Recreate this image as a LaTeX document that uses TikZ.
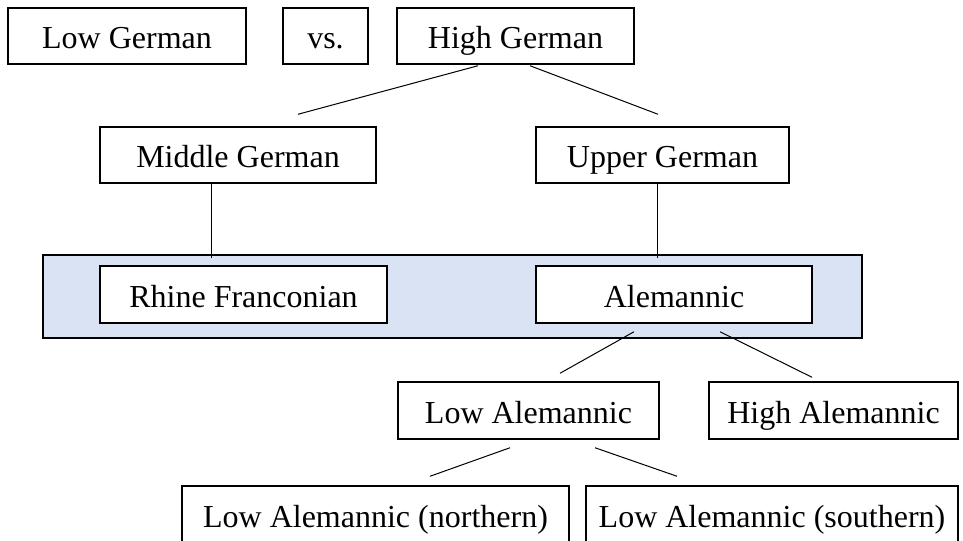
\documentclass[tikz,border=0pt]{standalone}
\usepackage{fontspec}
\setmainfont{Liberation Serif}
\usepackage{xcolor}
\definecolor{bandblue}{HTML}{DAE3F3}

\begin{document}
\begin{tikzpicture}[
    x=0.75pt, y=-0.75pt,
    box/.style={draw, line width=1.1pt, fill=white, inner sep=0pt, minimum height=42pt, text height=20pt, text depth=1pt, align=center, font=\fontsize{24}{28}\selectfont},
    band/.style={draw, line width=1.1pt, fill=bandblue, inner sep=0pt},
    link/.style={line width=0.75pt}
]
\useasboundingbox (0,0) rectangle (963,540);

\node[band, minimum width=614.25pt, minimum height=62.25pt] (group) at (452.5,296.5) {};

\node[box, minimum width=178.5pt] (lowger) at (127,36) {Low German};
\node[box, minimum width=63.75pt] (vs) at (325.5,36) {vs.};
\node[box, minimum width=177.75pt] (highger) at (515.5,36) {High German};
\node[box, minimum width=207pt] (midger) at (238,155) {Middle German};
\node[box, minimum width=189.75pt] (upger) at (662.5,155) {Upper German};
\node[box, minimum width=215.25pt, minimum height=42.75pt] (rhine) at (243.5,294.5) {Rhine Franconian};
\node[box, minimum width=207pt, minimum height=42.75pt] (alem) at (674,294.5) {Alemannic};
\node[box, minimum width=195.75pt, minimum height=42.75pt] (lowalem) at (528.5,410.5) {Low Alemannic};
\node[box, minimum width=186.75pt, minimum height=42.75pt] (highalem) at (833.5,410.5) {High Alemannic};
\node[box, minimum width=290.25pt, minimum height=42.75pt] (lanorth) at (375.5,514.5) {Low Alemannic (northern)};
\node[box, minimum width=279pt, minimum height=42.75pt] (lasouth) at (772,514.5) {Low Alemannic (southern)};

\draw[link] ([shift={(-37.5,1)}]highger.south) -- ([shift={(60,-12)}]midger.north);
\draw[link] ([shift={(14.5,1)}]highger.south) -- ([shift={(-4.5,-12)}]upger.north);
\draw[link] ([shift={(-27,0)}]midger.south) -- ([shift={(-32.5,-7)}]rhine.north);
\draw[link] ([shift={(-5.5,0)}]upger.south) -- ([shift={(-17,-7)}]alem.north);
\draw[link] ([shift={(-40,8)}]alem.south) -- ([shift={(31.5,-8)}]lowalem.north);
\draw[link] ([shift={(46,8)}]alem.south) -- ([shift={(-21.5,-4)}]highalem.north);
\draw[link] ([shift={(-18.5,8)}]lowalem.south) -- ([shift={(54.5,-9)}]lanorth.north);
\draw[link] ([shift={(66.5,8)}]lowalem.south) -- ([shift={(-95,-9)}]lasouth.north);
\end{tikzpicture}
\end{document}
